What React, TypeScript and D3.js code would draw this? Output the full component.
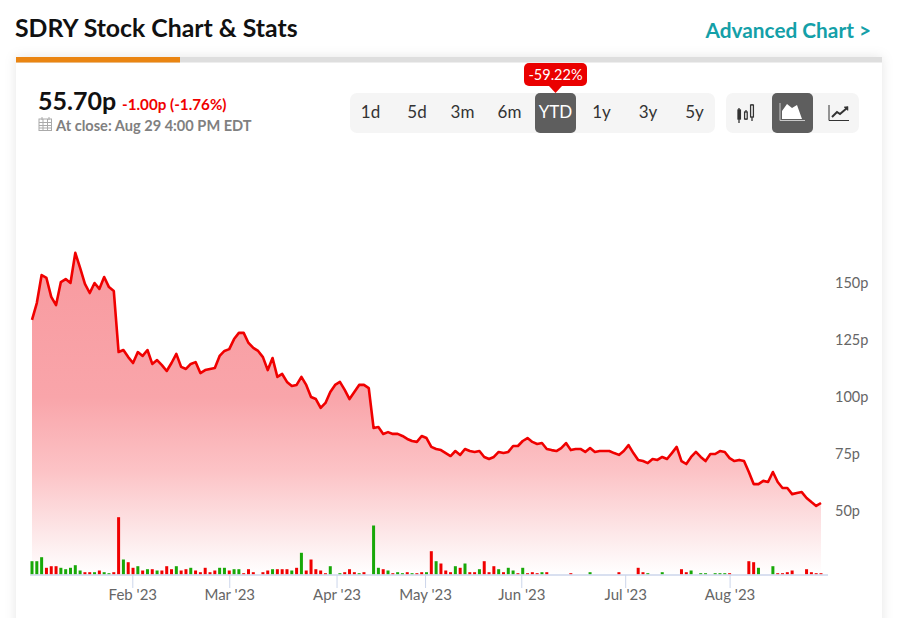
import React, { useEffect, useRef } from 'react'
import * as d3 from 'd3'

// closing price in pence, one per trading day from 3 Jan
const prices = [
  136.0, 143.4, 155.7, 154.4, 146.1, 142.5, 152.6, 153.9, 152.2, 165.4,
  158.8, 151.8, 147.8, 152.2, 149.6, 154.8, 150.4, 148.7, 121.9, 122.8,
  119.7, 117.1, 121.9, 120.2, 122.8, 116.7, 118.4, 116.2, 113.6, 117.1,
  121.1, 115.4, 114.5, 116.7, 117.5, 112.7, 114.0, 114.5, 114.9, 120.2,
  122.4, 123.2, 127.6, 130.3, 130.3, 125.9, 123.7, 122.4, 119.7, 114.0,
  119.3, 111.0, 112.3, 108.8, 107.0, 107.5, 111.0, 107.5, 102.2, 101.3,
  97.4, 99.6, 104.4, 107.5, 108.8, 105.3, 101.3, 104.4, 107.5, 107.5,
  106.1, 88.6, 89.0, 86.0, 86.8, 86.0, 86.0, 85.1, 83.8, 82.9,
  82.5, 85.1, 84.2, 80.3, 79.4, 78.9, 77.6, 76.3, 78.5, 76.8,
  79.4, 78.5, 78.1, 78.5, 75.9, 75.0, 75.9, 78.1, 77.6, 78.1,
  80.7, 80.7, 82.9, 84.2, 82.5, 81.6, 82.0, 79.4, 78.9, 78.5,
  79.8, 82.0, 78.9, 79.4, 79.4, 78.1, 79.8, 78.1, 78.5, 78.5,
  78.5, 77.6, 76.8, 78.5, 81.1, 77.6, 74.6, 74.1, 73.2, 75.0,
  74.6, 75.9, 75.0, 77.6, 80.3, 74.1, 72.8, 75.9, 78.1, 75.9,
  74.1, 77.2, 77.2, 78.5, 78.1, 75.4, 74.1, 74.6, 74.1, 69.3,
  64.0, 64.0, 65.4, 64.9, 69.3, 64.9, 62.3, 62.3, 59.6, 60.1,
  60.5, 57.9, 56.1, 54.4, 55.7,
]

// relative volume per day, 0 = no visible bar
const volumes = [
  13.3, 13.3, 17.3, 6.7, 8.3, 8.3, 6.7, 5.3, 6.7, 9.3,
  4, 2.3, 2.3, 2.3, 4, 2.3, 1.3, 2.3, 57.3, 15,
  12.3, 6.7, 8.3, 4, 5.3, 5.3, 4, 4, 8.3, 5.3,
  8.3, 4, 5.3, 6.7, 4, 2.3, 6.7, 2.3, 4, 6.7,
  6.7, 4, 5.3, 5.3, 1.3, 5.3, 2.3, 0, 2.3, 4,
  5.3, 5.3, 5.3, 5.3, 4, 6.7, 21.7, 4, 15, 5.3,
  4, 1.3, 8.3, 0, 1.3, 2.3, 5.3, 2.3, 1.3, 2.3,
  0, 49, 6.7, 5.3, 4, 1.3, 2.3, 1.3, 2.3, 1.3,
  1.3, 2.3, 2.3, 23.3, 13.3, 11, 4, 2.3, 8.3, 6.7,
  11, 2.3, 2.3, 5.3, 13.3, 2.3, 8.3, 5.3, 2.3, 6.7,
  4, 1.3, 6.7, 1.3, 2.3, 1.3, 2.3, 2.3, 0, 0,
  0, 0, 1.3, 0, 0, 0, 2.3, 0, 0, 0,
  0, 0, 2.3, 0, 0, 0, 6.7, 2.3, 1.3, 0,
  0, 2.3, 0, 0, 0, 5.3, 2.3, 4, 0, 1.3,
  1.3, 0, 1.3, 1.3, 1.3, 1.3, 0, 0, 0, 13.3,
  12.3, 6.7, 0, 0, 8.3, 1.3, 1.3, 2.3, 4, 0,
  0, 5.3, 2.3, 1.3, 1.3,
]

// days whose volume bar is green, the rest are red
const greenDays = [
  0, 1, 2, 6, 7, 8, 9, 10, 13, 15, 16, 19, 22, 24, 26, 30, 33, 39, 40, 42, 43,
  50, 54, 56, 62, 64, 68, 71, 72, 74, 76, 77, 79, 82, 84, 88, 90, 93, 97, 99,
  100, 102, 106, 116, 128, 131, 137, 139, 140, 142, 143, 144, 151, 154,
]

const monthTicks = [20.85, 41, 63.3, 81.7, 101.7, 123.3, 145]
const monthLabels = ["Feb '23", "Mar '23", "Apr '23", "May '23", "Jun '23", "Jul '23", "Aug '23"]
const priceTicks = [50, 75, 100, 125, 150]

const ranges = ['1d', '5d', '3m', '6m', 'YTD', '1y', '3y', '5y']
const rangeCentres = [370.5, 417, 462.5, 509.5, 555.5, 601.5, 648, 694.5]

const FONT = 'Lato, "Noto Sans", sans-serif'
const RED = '#f00000'
const GREEN = '#18a808'

function CandleIcon() {
  return (
    <g fill="none" stroke="#333" strokeWidth={1.3}>
      <path d="M739 108v15M746 110v10" />
      <path d="M752 104v17" />
      <rect x={738} y={110} width={2.4} height={9} fill="#333" />
      <rect x={744.6} y={112} width={2.6} height={7} fill="#fff" />
      <rect x={750.6} y={105} width={2.8} height={12} fill="#fff" />
    </g>
  )
}

function AreaIcon() {
  return (
    <g>
      <path d="M780 103v17.5h25" fill="none" stroke="#c9c9c9" strokeWidth={1} />
      <path d="M782 119v-8l5-7 5 4 5-3 5 14z" fill="#fff" />
    </g>
  )
}

function LineIcon() {
  return (
    <g fill="none" stroke="#333">
      <path d="M829 105v15.5h20" strokeWidth={1} />
      <path d="M832 117l5-5 3 2 7-6" strokeWidth={2} />
      <path d="M844 107l4-.5v4z" fill="#333" strokeWidth={0.5} />
    </g>
  )
}

export default function App() {
  const chartEl = useRef<SVGGElement>(null)

  useEffect(() => {
    const g = d3.select(chartEl.current)
    g.selectAll('*').remove()

    const x = d3.scaleLinear().domain([0, prices.length - 1]).range([32, 821])
    const y = d3.scaleLinear().domain([50, 150]).range([516, 288])
    const baseY = 574.5
    const vol = d3.scaleLinear().domain([0, 57.3]).range([baseY, baseY - 57.3])

    const area = d3.area<number>()
      .x((d, i) => x(i))
      .y0(baseY)
      .y1(d => y(d))
    const line = d3.line<number>()
      .x((d, i) => x(i))
      .y(d => y(d))

    g.append('path').attr('d', area(prices)).attr('fill', 'url(#areaFill)')

    // volume bars
    volumes.forEach((v, i) => {
      if (v <= 0) return
      g.append('rect')
        .attr('x', x(i) - 1.5)
        .attr('y', vol(v))
        .attr('width', 3)
        .attr('height', baseY - vol(v))
        .attr('fill', greenDays.includes(i) ? GREEN : RED)
    })

    g.append('path')
      .attr('d', line(prices))
      .attr('fill', 'none')
      .attr('stroke', RED)
      .attr('stroke-width', 2.6)
      .attr('stroke-linejoin', 'round')

    // month axis
    const xAxis = g.append('g')
      .attr('transform', `translate(0,${baseY + 0.5})`)
      .call(d3.axisBottom(x)
        .tickValues(monthTicks)
        .tickFormat((d, i) => monthLabels[i])
        .tickSize(13)
        .tickPadding(1))
    xAxis.select('.domain').attr('d', 'M30,0H828').attr('stroke', '#ccd6eb').attr('stroke-width', 1.5)
    xAxis.selectAll('.tick line').attr('stroke', '#ccd6eb')
    xAxis.selectAll('.tick text')
      .attr('fill', '#666')
      .style('font-family', FONT)
      .style('font-size', '15px')

    // price axis, labels sit just above their gridline position
    const yAxis = g.append('g')
      .attr('transform', 'translate(835,0)')
      .call(d3.axisRight(y)
        .tickValues(priceTicks)
        .tickFormat(d => `${d}p`)
        .tickSize(0)
        .tickPadding(0))
    yAxis.select('.domain').remove()
    yAxis.selectAll('.tick text')
      .attr('fill', '#666')
      .attr('dy', '-0.07em')
      .style('font-family', FONT)
      .style('font-size', '14.5px')
  }, [])

  return (
    <svg
      width={902}
      height={618}
      style={{ position: 'absolute', left: 0, top: 0, background: '#fff' }}
      fontFamily={FONT}
    >
      <defs>
        <linearGradient id="areaFill" x1="0" y1="0" x2="0" y2="1">
          <stop offset="0" stopColor="#f89a9f" />
          <stop offset="0.45" stopColor="#f9a5aa" />
          <stop offset="0.68" stopColor="#fcc3c6" />
          <stop offset="0.89" stopColor="#fdebec" />
          <stop offset="1" stopColor="#ffffff" />
        </linearGradient>
        <filter id="cardShadow" x="-5%" y="-5%" width="110%" height="110%">
          <feDropShadow dx={0} dy={0} stdDeviation={6} floodColor="#000" floodOpacity={0.1} />
        </filter>
      </defs>

      <rect x={16} y={57} width={866} height={600} fill="#fff" filter="url(#cardShadow)" />
      <rect x={16} y={57} width={866} height={5.5} fill="#dedede" />
      <rect x={16} y={57} width={164} height={5.5} fill="#ea8512" />

      <text x={15} y={37} fontSize={24.8} fontWeight={700} fill="#111">SDRY Stock Chart &amp; Stats</text>
      <text x={871} y={37.500} fontSize={20.8} fontWeight={700} fill="#14a0a8" textAnchor="end">Advanced Chart &gt;</text>

      <text x={38} y={110} fontSize={25} fontWeight={700} fill="#111">55.70p</text>
      <text x={122} y={110} fontSize={15.2} fontWeight={700} fill={RED}>-1.00p (-1.76%)</text>
      <g fill="none" stroke="#aaa" strokeWidth={1}>
        <rect x={39} y={119} width={12.5} height={11.5} />
        <path d="M39 122.5h12.5M39 125.500h12.5M39 128h12.5M43 119v11.500M47.500 119v11.500M42 117v3M49 117v3" />
      </g>
      <text x={56} y={131} fontSize={14.6} fontWeight={700} fill="#808080">At close: Aug 29 4:00 PM EDT</text>

      <rect x={350} y={93} width={365} height={40} rx={7} fill="#f5f5f5" />
      <rect x={726} y={93} width={133} height={40} rx={7} fill="#f5f5f5" />
      <rect x={535} y={93} width={41} height={40} rx={5} fill="#5e5e5e" />
      <rect x={772} y={93} width={41} height={40} rx={5} fill="#5e5e5e" />
      {ranges.map((r, i) => (
        <text
          key={r}
          x={rangeCentres[i]}
          y={118}
          fontSize={17}
          textAnchor="middle"
          fill={r === 'YTD' ? '#fff' : '#333'}
        >
          {r}
        </text>
      ))}
      <CandleIcon />
      <AreaIcon />
      <LineIcon />

      <rect x={524} y={63} width={63} height={23} rx={5} fill="#ea0000" />
      <path d="M549 86h13l-6.500 7z" fill="#ea0000" />
      <text x={555.5} y={80} fontSize={14.5} textAnchor="middle" fill="#fff">-59.22%</text>

      <g ref={chartEl} />
    </svg>
  )
}
